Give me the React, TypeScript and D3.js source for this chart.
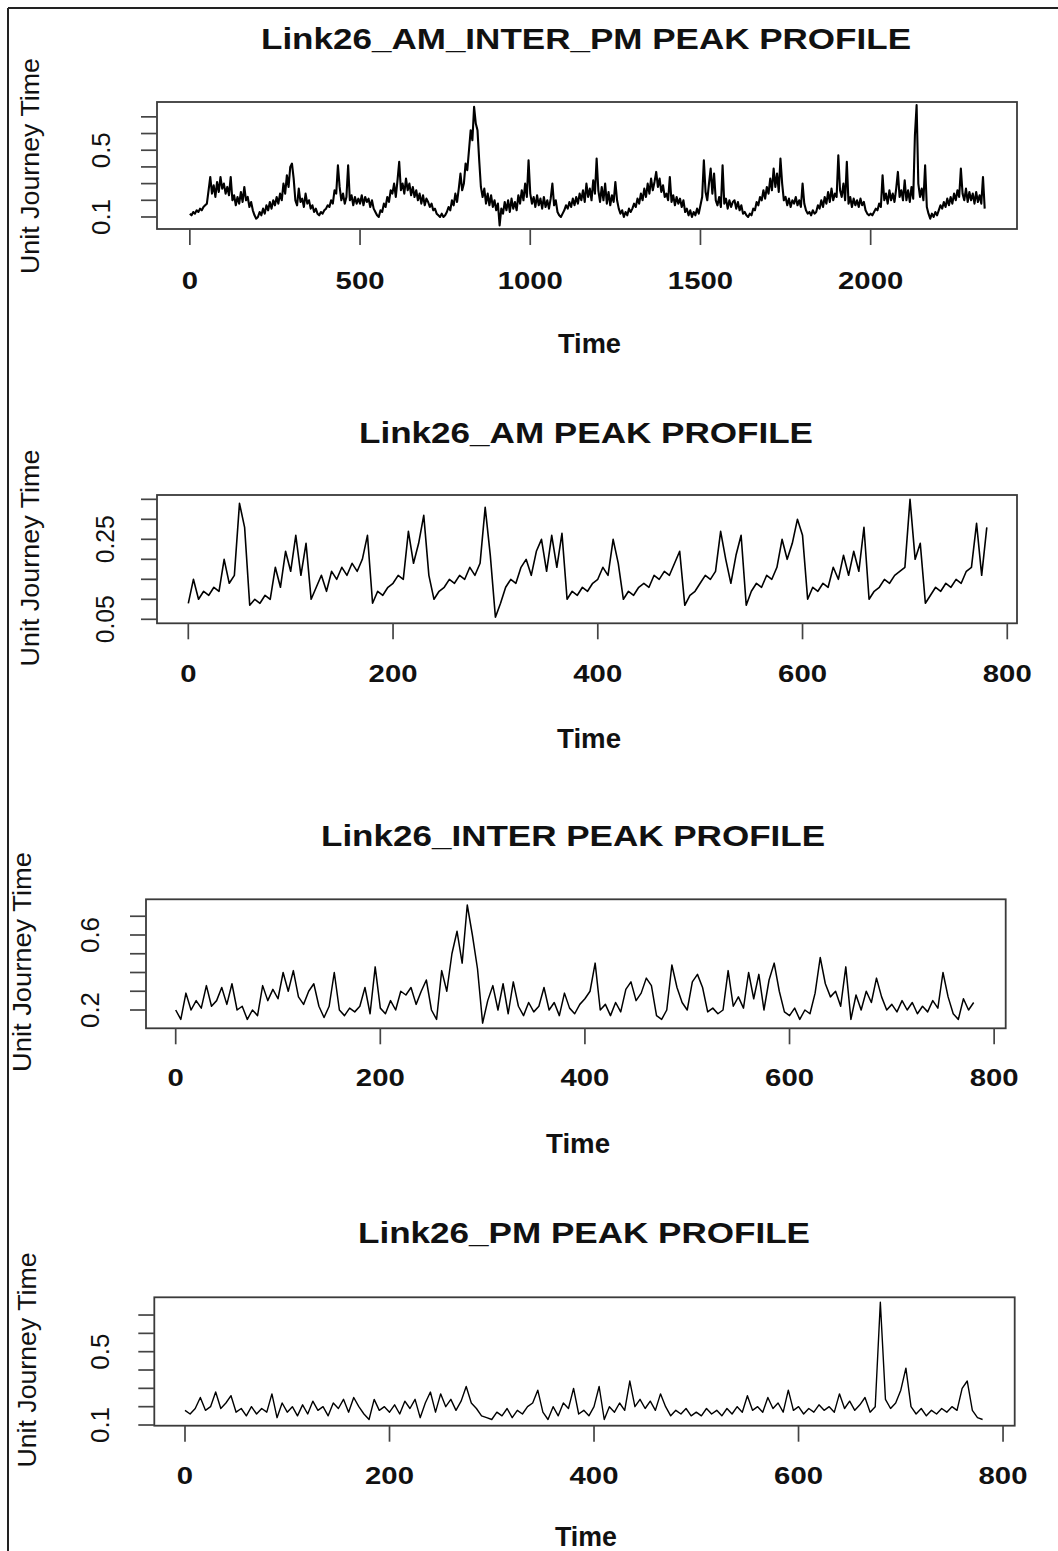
import React from 'react';
import * as d3 from 'd3';

const STEP = 5;

const AM_INTER_PM_VALUES = [
  0.12,0.11,0.13,0.12,0.14,0.13,0.15,0.14,0.16,0.17,0.18,0.26,0.34,0.24,0.29,0.22,0.31,0.25,0.34,0.27,
  0.3,0.24,0.28,0.23,0.34,0.2,0.23,0.17,0.22,0.18,0.25,0.19,0.28,0.2,0.22,0.16,0.19,0.14,0.11,0.09,
  0.1,0.13,0.11,0.15,0.12,0.17,0.14,0.19,0.15,0.2,0.17,0.22,0.18,0.24,0.2,0.3,0.24,0.35,0.28,0.4,
  0.42,0.33,0.2,0.17,0.27,0.19,0.21,0.16,0.24,0.18,0.2,0.15,0.17,0.13,0.15,0.12,0.11,0.13,0.12,0.14,
  0.15,0.17,0.16,0.2,0.18,0.26,0.24,0.41,0.28,0.2,0.24,0.18,0.22,0.41,0.2,0.23,0.17,0.22,0.18,0.21,
  0.18,0.23,0.17,0.22,0.19,0.21,0.16,0.2,0.15,0.13,0.11,0.1,0.14,0.13,0.18,0.16,0.22,0.19,0.26,0.24,
  0.3,0.22,0.32,0.43,0.26,0.3,0.24,0.33,0.26,0.3,0.23,0.28,0.22,0.26,0.2,0.24,0.18,0.23,0.17,0.21,
  0.19,0.16,0.18,0.14,0.15,0.12,0.11,0.1,0.12,0.1,0.11,0.13,0.16,0.14,0.2,0.17,0.24,0.19,0.27,0.36,
  0.26,0.3,0.42,0.38,0.5,0.62,0.56,0.76,0.66,0.62,0.44,0.28,0.22,0.27,0.18,0.24,0.17,0.23,0.16,0.2,
  0.14,0.18,0.05,0.15,0.12,0.19,0.14,0.2,0.13,0.21,0.15,0.19,0.14,0.23,0.18,0.26,0.2,0.3,0.22,0.44,
  0.24,0.18,0.22,0.16,0.23,0.17,0.21,0.15,0.22,0.16,0.2,0.15,0.21,0.3,0.17,0.2,0.13,0.11,0.1,0.12,
  0.14,0.17,0.15,0.19,0.16,0.21,0.17,0.22,0.18,0.24,0.2,0.26,0.19,0.3,0.22,0.27,0.2,0.32,0.24,0.45,
  0.26,0.19,0.28,0.2,0.3,0.18,0.25,0.17,0.23,0.19,0.31,0.2,0.15,0.12,0.14,0.1,0.13,0.11,0.15,0.13,
  0.15,0.18,0.16,0.21,0.18,0.24,0.2,0.27,0.22,0.3,0.24,0.33,0.26,0.31,0.37,0.28,0.33,0.25,0.29,0.22,
  0.24,0.2,0.34,0.19,0.23,0.17,0.22,0.18,0.21,0.16,0.2,0.13,0.15,0.11,0.14,0.1,0.13,0.11,0.15,0.12,
  0.17,0.22,0.44,0.25,0.2,0.3,0.39,0.24,0.36,0.2,0.17,0.22,0.16,0.41,0.18,0.21,0.15,0.2,0.16,0.19,
  0.2,0.15,0.19,0.14,0.17,0.12,0.13,0.11,0.1,0.12,0.11,0.15,0.14,0.19,0.17,0.22,0.2,0.26,0.21,0.28,
  0.24,0.33,0.26,0.39,0.28,0.36,0.25,0.45,0.3,0.2,0.22,0.17,0.21,0.16,0.2,0.18,0.22,0.17,0.2,0.16,
  0.3,0.18,0.14,0.12,0.13,0.11,0.14,0.12,0.13,0.17,0.15,0.2,0.16,0.22,0.18,0.25,0.19,0.27,0.2,0.24,
  0.22,0.47,0.26,0.22,0.3,0.2,0.43,0.18,0.22,0.16,0.21,0.17,0.2,0.16,0.21,0.17,0.19,0.14,0.12,0.11,
  0.12,0.11,0.13,0.15,0.14,0.18,0.16,0.35,0.2,0.24,0.18,0.26,0.2,0.24,0.19,0.27,0.37,0.22,0.26,0.2,
  0.32,0.2,0.26,0.19,0.28,0.21,0.59,0.77,0.3,0.22,0.27,0.2,0.41,0.16,0.12,0.09,0.12,0.1,0.13,0.11,
  0.14,0.17,0.15,0.19,0.16,0.21,0.17,0.22,0.18,0.24,0.2,0.26,0.22,0.39,0.24,0.2,0.27,0.19,0.25,0.2,
  0.24,0.18,0.25,0.19,0.23,0.18,0.34,0.15,
];

const AM_VALUES = [
  0.09,0.15,0.1,0.12,0.11,0.13,0.12,0.2,0.14,0.16,0.34,0.28,0.085,0.1,0.09,0.11,0.1,0.18,0.13,0.22,
  0.17,0.26,0.16,0.24,0.1,0.13,0.16,0.12,0.17,0.15,0.18,0.16,0.19,0.17,0.2,0.26,0.09,0.12,0.11,0.13,
  0.14,0.16,0.15,0.27,0.19,0.24,0.31,0.16,0.1,0.12,0.13,0.15,0.14,0.16,0.15,0.18,0.16,0.19,0.33,0.21,
  0.055,0.09,0.13,0.15,0.14,0.18,0.2,0.16,0.22,0.25,0.17,0.26,0.18,0.265,0.1,0.12,0.11,0.13,0.12,0.14,
  0.15,0.18,0.16,0.25,0.19,0.1,0.12,0.11,0.13,0.14,0.13,0.16,0.15,0.17,0.16,0.19,0.22,0.085,0.11,0.12,
  0.14,0.16,0.15,0.17,0.27,0.2,0.14,0.21,0.26,0.085,0.12,0.14,0.13,0.16,0.15,0.18,0.25,0.2,0.24,0.3,
  0.26,0.1,0.13,0.12,0.14,0.13,0.18,0.15,0.21,0.16,0.22,0.17,0.28,0.1,0.12,0.13,0.15,0.14,0.16,0.17,
  0.18,0.35,0.2,0.24,0.09,0.11,0.13,0.12,0.14,0.13,0.15,0.14,0.17,0.18,0.29,0.16,0.28,
];

const INTER_VALUES = [
  0.2,0.15,0.29,0.2,0.25,0.21,0.33,0.22,0.25,0.32,0.23,0.34,0.2,0.22,0.15,0.2,0.17,0.33,0.25,0.31,
  0.26,0.4,0.3,0.41,0.27,0.23,0.3,0.34,0.22,0.16,0.22,0.4,0.2,0.17,0.21,0.19,0.22,0.32,0.18,0.43,
  0.21,0.18,0.25,0.2,0.3,0.28,0.32,0.23,0.3,0.36,0.2,0.15,0.41,0.3,0.5,0.62,0.45,0.76,0.6,0.42,
  0.13,0.25,0.33,0.2,0.34,0.18,0.35,0.22,0.17,0.24,0.19,0.22,0.32,0.2,0.24,0.17,0.29,0.21,0.18,0.23,
  0.26,0.3,0.45,0.2,0.23,0.17,0.24,0.19,0.31,0.35,0.25,0.29,0.37,0.33,0.17,0.15,0.2,0.44,0.32,0.24,
  0.2,0.35,0.39,0.32,0.19,0.21,0.18,0.2,0.41,0.22,0.27,0.21,0.4,0.26,0.39,0.2,0.36,0.45,0.3,0.19,
  0.17,0.21,0.15,0.2,0.18,0.29,0.48,0.34,0.27,0.3,0.22,0.43,0.15,0.28,0.2,0.3,0.24,0.37,0.27,0.2,
  0.23,0.19,0.25,0.2,0.24,0.18,0.22,0.19,0.25,0.21,0.4,0.27,0.18,0.15,0.26,0.2,0.24,
];

const PM_VALUES = [
  0.18,0.16,0.19,0.25,0.18,0.2,0.28,0.19,0.22,0.26,0.17,0.19,0.15,0.2,0.16,0.19,0.17,0.27,0.14,0.22,
  0.17,0.2,0.15,0.21,0.16,0.23,0.18,0.2,0.15,0.22,0.19,0.24,0.17,0.25,0.2,0.16,0.13,0.24,0.18,0.2,
  0.17,0.21,0.16,0.23,0.19,0.24,0.14,0.22,0.28,0.17,0.27,0.2,0.24,0.18,0.23,0.31,0.22,0.19,0.15,0.14,
  0.13,0.17,0.15,0.19,0.14,0.18,0.16,0.2,0.22,0.29,0.17,0.13,0.2,0.15,0.22,0.19,0.3,0.16,0.18,0.15,
  0.2,0.31,0.13,0.2,0.17,0.22,0.18,0.34,0.2,0.24,0.19,0.23,0.18,0.27,0.2,0.15,0.18,0.16,0.19,0.15,
  0.17,0.15,0.19,0.16,0.18,0.15,0.19,0.16,0.2,0.17,0.26,0.18,0.2,0.17,0.25,0.19,0.22,0.17,0.29,0.18,
  0.2,0.16,0.19,0.17,0.21,0.18,0.2,0.17,0.27,0.19,0.23,0.18,0.21,0.25,0.17,0.2,0.77,0.24,0.19,0.22,
  0.29,0.41,0.2,0.16,0.19,0.15,0.18,0.16,0.19,0.17,0.2,0.18,0.3,0.34,0.18,0.14,0.13,
];

const TITLES = [
  'Link26_AM_INTER_PM PEAK PROFILE',
  'Link26_AM PEAK PROFILE',
  'Link26_INTER PEAK PROFILE',
  'Link26_PM PEAK PROFILE',
];

const X_TICKS_LONG = [0, 500, 1000, 1500, 2000];
const X_TICKS_SHORT = [0, 200, 400, 600, 800];
const Y_TICKS_TENTHS = [0.1, 0.2, 0.3, 0.4, 0.5, 0.6, 0.7];
const Y_TICKS_AM = [0.05, 0.1, 0.15, 0.2, 0.25, 0.3, 0.35];
const Y_TICKS_INTER = [0.2, 0.3, 0.4, 0.5, 0.6, 0.7];
const Y_LABELS_TENTHS = [0.1, 0.5];
const Y_LABELS_AM = [0.05, 0.25];
const Y_LABELS_INTER = [0.2, 0.6];

const X_LABEL = 'Time';
const Y_LABEL = 'Unit Journey Time';

// ---- layout ----
const W = 1058;
const H = 1551;
const FONT = "'Liberation Sans', Arial, Helvetica, sans-serif";

type Layout = {
  box: [number, number, number, number];
  xDomain: [number, number];
  yDomain: [number, number];
  lineWidth: number;
  titleX: number; titleY: number; titleLen: number;
  timeX: number; timeY: number; timeLen: number;
  ylabX: number; ylabY: number; ylabLen: number;
  yTickLabX: number; xTickLabY: number;
};

const PANELS = [
  {
    title: TITLES[0], values: AM_INTER_PM_VALUES, xTicks: X_TICKS_LONG, yTicks: Y_TICKS_TENTHS, yLabels: Y_LABELS_TENTHS,
    layout: {
      box: [157, 1017, 102, 229], xDomain: [-96.5, 2429.9], yDomain: [0.028, 0.789], lineWidth: 2.1,
      titleX: 586, titleY: 49, titleLen: 650, timeX: 589.5, timeY: 353, timeLen: 63,
      ylabX: 39, ylabY: 166, ylabLen: 216, yTickLabX: 110, xTickLabY: 280,
    } as Layout,
  },
  {
    title: TITLES[1], values: AM_VALUES, xTicks: X_TICKS_SHORT, yTicks: Y_TICKS_AM, yLabels: Y_LABELS_AM,
    layout: {
      box: [157, 1017, 495, 623.3], xDomain: [-30.58, 809.5], yDomain: [0.04, 0.3608], lineWidth: 1.6,
      titleX: 586, titleY: 443, titleLen: 454, timeX: 589, timeY: 748, timeLen: 64,
      ylabX: 39, ylabY: 558, ylabLen: 217, yTickLabX: 114, xTickLabY: 673,
    } as Layout,
  },
  {
    title: TITLES[2], values: INTER_VALUES, xTicks: X_TICKS_SHORT, yTicks: Y_TICKS_INTER, yLabels: Y_LABELS_INTER,
    layout: {
      box: [146, 1005.7, 899.3, 1028.3], xDomain: [-29.03, 811.3], yDomain: [0.1024, 0.7904], lineWidth: 1.5,
      titleX: 573, titleY: 846, titleLen: 504, timeX: 578, timeY: 1153, timeLen: 64,
      ylabX: 31, ylabY: 962, ylabLen: 220, yTickLabX: 99, xTickLabY: 1077,
    } as Layout,
  },
  {
    title: TITLES[3], values: PM_VALUES, xTicks: X_TICKS_SHORT, yTicks: Y_TICKS_TENTHS, yLabels: Y_LABELS_TENTHS,
    layout: {
      box: [154.3, 1014.7, 1297.3, 1425.7], xDomain: [-30.02, 811.4], yDomain: [0.0962, 0.7967], lineWidth: 1.4,
      titleX: 584, titleY: 1243, titleLen: 452, timeX: 586, timeY: 1546, timeLen: 62,
      ylabX: 36, ylabY: 1360, ylabLen: 215, yTickLabX: 109, xTickLabY: 1475,
    } as Layout,
  },
];

function Panel({ p }: { p: (typeof PANELS)[number] }) {
  const L = p.layout;
  const [x0, x1, y0, y1] = L.box;
  const xs = d3.scaleLinear().domain(L.xDomain).range([x0, x1]);
  const ys = d3.scaleLinear().domain(L.yDomain).range([y1, y0]);
  const line = d3
    .line<number>()
    .x((_, i) => xs(i * STEP))
    .y((d) => ys(d));
  const tickLen = 16;
  return (
    <g>
      <text
        x={L.titleX}
        y={L.titleY}
        textAnchor="middle"
        fontFamily={FONT}
        fontWeight="bold"
        fontSize={30}
        textLength={L.titleLen}
        lengthAdjust="spacingAndGlyphs"
        fill="#111"
      >
        {p.title}
      </text>
      <path d={line(p.values) || ''} fill="none" stroke="#000" strokeWidth={L.lineWidth} strokeLinejoin="round" />
      <rect x={x0} y={y0} width={x1 - x0} height={y1 - y0} fill="none" stroke="#3a3a3a" strokeWidth={1.8} />
      {p.yTicks.map((v) => (
        <line key={'yt' + v} x1={x0 - tickLen} x2={x0} y1={ys(v)} y2={ys(v)} stroke="#444" strokeWidth={1.7} />
      ))}
      {p.yLabels.map((v) => (
        <text
          key={'yl' + v}
          transform={`translate(${L.yTickLabX},${ys(v)}) rotate(-90)`}
          textAnchor="middle"
          fontFamily={FONT}
          fontSize={25}
          textLength={String(v).length === 3 ? 36 : 48}
          lengthAdjust="spacingAndGlyphs"
          fill="#111"
        >
          {String(v)}
        </text>
      ))}
      {p.xTicks.map((t) => (
        <line key={'xt' + t} x1={xs(t)} x2={xs(t)} y1={y1} y2={y1 + tickLen} stroke="#444" strokeWidth={1.7} />
      ))}
      {p.xTicks.map((t) => (
        <text
          key={'xl' + t}
          x={xs(t)}
          y={L.xTickLabY + 8.6}
          textAnchor="middle"
          fontFamily={FONT}
          fontWeight="bold"
          fontSize={24}
          textLength={String(t).length * 16.3}
          lengthAdjust="spacingAndGlyphs"
          fill="#111"
        >
          {String(t)}
        </text>
      ))}
      <text
        x={L.timeX}
        y={L.timeY}
        textAnchor="middle"
        fontFamily={FONT}
        fontWeight="bold"
        fontSize={27}
        textLength={L.timeLen}
        lengthAdjust="spacingAndGlyphs"
        fill="#111"
      >
        {X_LABEL}
      </text>
      <text
        transform={`translate(${L.ylabX},${L.ylabY}) rotate(-90)`}
        textAnchor="middle"
        fontFamily={FONT}
        fontSize={26}
        textLength={L.ylabLen}
        lengthAdjust="spacingAndGlyphs"
        fill="#111"
      >
        {Y_LABEL}
      </text>
    </g>
  );
}

export default function App() {
  return (
    <svg
      width={W}
      height={H}
      viewBox={`0 0 ${W} ${H}`}
      style={{ position: 'absolute', left: 0, top: 0, background: '#fff' }}
    >
      <rect x={0} y={0} width={W} height={H} fill="#fff" />
      <line x1={8} y1={8} x2={W} y2={8} stroke="#222" strokeWidth={2} />
      <line x1={8} y1={8} x2={8} y2={H} stroke="#222" strokeWidth={2} />
      {PANELS.map((p, i) => (
        <Panel key={i} p={p} />
      ))}
    </svg>
  );
}
